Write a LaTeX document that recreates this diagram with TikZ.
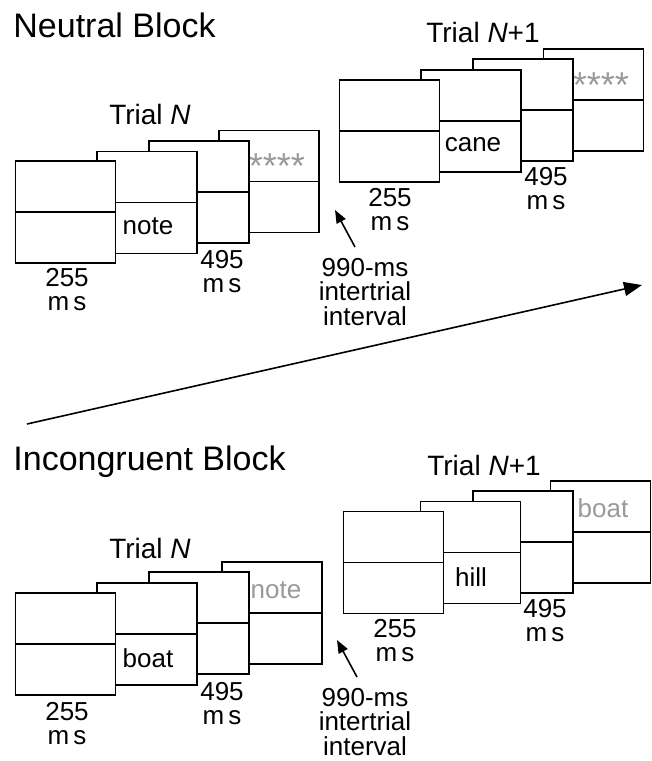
\documentclass[tikz,border=0pt]{standalone}
\usepackage{fontspec}
\setmainfont{Liberation Sans}
\usepackage{tikz}
\usetikzlibrary{arrows.meta,positioning}
\definecolor{cuegray}{HTML}{9A9A9A}

\begin{document}
\begin{tikzpicture}[
  frame/.style={draw,thick,fill=white,minimum width=50pt,minimum height=51pt,
                inner sep=0pt,
                path picture={\draw[thick] (path picture bounding box.west)
                  -- (path picture bounding box.east);}},
  title/.style={font=\fontsize{17}{20}\selectfont,anchor=west,inner sep=0pt},
  trial/.style={font=\fontsize{14}{16}\selectfont,inner sep=0pt},
  dur/.style={font=\fontsize{13}{12}\selectfont,align=center,inner sep=0pt},
  iti/.style={font=\fontsize{13}{12.3}\selectfont,align=center,inner sep=0pt},
  word/.style={font=\fontsize{13}{15}\selectfont,inner sep=0pt},
  cue/.style={word,text=cuegray},
  stars/.style={font=\fontsize{18}{20}\selectfont,text=cuegray,inner sep=0pt},
  arr/.style={-{Triangle[length=6.5pt,width=5pt]},line width=0.8pt},
  x=0.5pt, y=-0.5pt
]
\useasboundingbox (0,0) rectangle (652,761);

%% ---------------- Neutral Block ----------------
\node[title] (ntitle) at (13,25) {Neutral Block};

%% Trial N
\node[trial] (ntrialA) at (150,114) {Trial \textit{N}};
\node[frame] (nA4) at (269,181.5) {};
\node[stars] (nA4w) at (277,166) {****};
\node[frame] (nA3) at (199,192) {};
\node[frame] (nA2) at (147,202.5) {};
\node[word]  (nA2w) at (148,226) {note};
\node[frame] (nA1) at (65.5,212) {};
\node[dur] (nA1t) at (67,290) {255\\m\,s};
\node[dur] (nA3t) at (222,272) {495\\m\,s};

%% Trial N+1
\node[trial] (ntrialB) at (483,32) {Trial \textit{N}+1};
\node[frame] (nB4) at (593.5,100) {};
\node[stars] (nB4w) at (601,85) {****};
\node[frame] (nB3) at (523,110) {};
\node[frame] (nB2) at (471,121) {};
\node[word]  (nB2w) at (473,145) {cane};
\node[frame] (nB1) at (389.5,131) {};
\node[dur] (nB1t) at (390,210) {255\\m\,s};
\node[dur] (nB3t) at (546,189) {495\\m\,s};

%% intertrial interval
\node[iti] (niti) at (365,292) {990-ms\\intertrial\\interval};
\coordinate (nitail) at (355,247);
\coordinate (nitip)  at (335,210);
\draw[arr] (nitail) -- (nitip);

%% long arrow between blocks
\coordinate (tstart) at (27,424);
\coordinate (tend)   at (642,285);
\draw[-{Triangle[length=9pt,width=7pt]},line width=0.8pt] (tstart) -- (tend);

%% ---------------- Incongruent Block ----------------
\node[title] (ititle) at (13,462) {Incongruent Block};

%% Trial N
\node[trial] (itrialA) at (150,548) {Trial \textit{N}};
\node[frame] (iA4) at (272,613) {};
\node[cue]   (iA4w) at (276,590) {note};
\node[frame] (iA3) at (199,623) {};
\node[frame] (iA2) at (147,634) {};
\node[word]  (iA2w) at (148,658) {boat};
\node[frame] (iA1) at (65.5,644) {};
\node[dur] (iA1t) at (67,724) {255\\m\,s};
\node[dur] (iA3t) at (222,704) {495\\m\,s};

%% Trial N+1
\node[trial] (itrialB) at (484,465) {Trial \textit{N}+1};
\node[frame] (iB4) at (600.5,532) {};
\node[cue]   (iB4w) at (603,508) {boat};
\node[frame] (iB3) at (523,542) {};
\node[frame] (iB2) at (470.5,552.5) {};
\node[word]  (iB2w) at (471,577) {hill};
\node[frame] (iB1) at (393.5,562.5) {};
\node[dur] (iB1t) at (395,641) {255\\m\,s};
\node[dur] (iB3t) at (545,621) {495\\m\,s};

%% intertrial interval
\node[iti] (iiti) at (365,722) {990-ms\\intertrial\\interval};
\coordinate (iitail) at (357,677);
\coordinate (iitip)  at (337,640);
\draw[arr] (iitail) -- (iitip);

\end{tikzpicture}
\end{document}
